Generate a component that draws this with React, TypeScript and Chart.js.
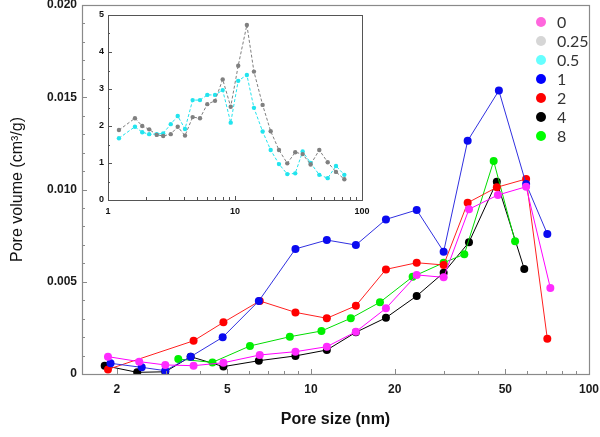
import React, { useEffect, useRef } from 'react';
import { Chart, registerables } from 'chart.js';
Chart.register(...registerables);

// ---------- main chart data ----------
const xTicks = [2, 5, 10, 20, 50, 100];
const xTickLabels = ['2', '5', '10', '20', '50', '100'];
const yTicks = [0, 0.005, 0.01, 0.015, 0.02];
const yTickLabels = ['0', '0.005', '0.010', '0.015', '0.020'];

const size0 = [1.86, 2.41, 2.99, 3.78, 4.84, 6.54, 8.79, 11.4, 14.5, 18.6, 24.0, 30.0, 37.0, 47.0, 59.4, 72.6];
const vol0 = [0.00094, 0.00067, 0.00049, 0.00045, 0.00061, 0.00103, 0.00121, 0.00148, 0.00229, 0.00356, 0.00537, 0.00524, 0.00893, 0.0097, 0.01015, 0.00466];

const size1 = [1.9, 2.46, 2.99, 3.69, 4.81, 6.49, 8.79, 11.4, 14.5, 18.6, 24.0, 30.0, 36.6, 47.4, 59.4, 70.8];
const vol1 = [0.00058, 0.00036, 0.00018, 0.00094, 0.00199, 0.00396, 0.00678, 0.00726, 0.00699, 0.00838, 0.00889, 0.00663, 0.01264, 0.01536, 0.0103, 0.00759];

const size2 = [1.86, 3.78, 4.84, 6.54, 8.79, 11.4, 14.5, 18.6, 24.0, 30.0, 36.6, 46.6, 59.4, 70.8];
const vol2 = [0.00025, 0.0018, 0.0028, 0.00396, 0.00334, 0.00302, 0.0037, 0.00567, 0.00603, 0.00591, 0.00928, 0.01012, 0.01057, 0.00191];

const size4 = [1.81, 2.37, 2.99, 3.69, 4.84, 6.49, 8.79, 11.4, 14.5, 18.6, 24.0, 30.0, 37.0, 46.6, 58.5];
const vol4 = [0.00045, 0.00009, 0.00012, 0.00094, 0.0004, 0.00072, 0.00098, 0.0013, 0.00226, 0.00305, 0.00423, 0.00549, 0.00714, 0.01042, 0.00569];

const size8 = [3.33, 4.42, 6.03, 8.39, 10.9, 13.9, 17.7, 23.2, 30.0, 35.6, 45.4, 54.2];
const vol8 = [0.00081, 0.00063, 0.00152, 0.00202, 0.00233, 0.00302, 0.00389, 0.00527, 0.00603, 0.00649, 0.01154, 0.00719];

const legendLabels = ['0', '0.25', '0.5', '1', '2', '4', '8'];
const legendColors = ['#ff66dd', '#d6d6d6', '#66ffff', '#0000ff', '#ff0000', '#000000', '#00ff00'];

// ---------- inset data ----------
const insetXTicks = [1, 10, 100];
const insetXTickLabels = ['1', '10', '100'];
const insetYTicks = [0, 1, 2, 3, 4, 5];
const insetYTickLabels = ['0', '1', '2', '3', '4', '5'];

const insetSize = [1.22, 1.63, 1.86, 2.11, 2.42, 2.72, 3.12, 3.54, 4.04, 4.64, 5.3, 6.05, 6.96, 8.0, 9.25, 10.6, 12.4, 14.1, 16.5, 19.1, 22.2, 25.8, 29.8, 34.1, 39.4, 46.1, 53.7, 62.4, 72.6];
const insetGrey = [1.89, 2.21, 2.0, 1.91, 1.76, 1.73, 1.78, 1.98, 1.74, 2.24, 2.21, 2.59, 2.68, 3.26, 2.52, 3.63, 4.73, 3.47, 2.57, 1.86, 1.35, 0.99, 1.29, 1.24, 0.96, 1.35, 1.02, 0.76, 0.56];
const insetCyan = [1.67, 1.98, 1.83, 1.78, 1.78, 1.8, 2.05, 2.27, 1.92, 2.7, 2.7, 2.84, 2.84, 2.97, 2.09, 3.22, 3.38, 2.49, 1.85, 1.35, 0.97, 0.7, 0.72, 1.31, 1.0, 0.68, 0.59, 0.92, 0.68];

const SANS = '"Liberation Sans", Arial, sans-serif';

function pts(xs: number[], ys: number[]) {
  return xs.map((x, i) => ({ x, y: ys[i] }));
}

function series(xs: number[], ys: number[], marker: string, line: string, r = 4, dash: number[] = []) {
  return {
    data: pts(xs, ys),
    showLine: true,
    borderColor: line,
    borderWidth: 1,
    borderDash: dash,
    backgroundColor: marker,
    pointBackgroundColor: marker,
    pointBorderColor: marker,
    pointBorderWidth: 0,
    pointRadius: r,
    pointHoverRadius: r,
    tension: 0,
  };
}

const mainFrame = {
  id: 'mainFrame',
  afterDraw(chart: any) {
    const { ctx, chartArea: a, scales } = chart;
    const sx = scales.x, sy = scales.y;
    ctx.save();
    ctx.strokeStyle = '#8a8a8a';
    ctx.lineWidth = 1.2;
    ctx.strokeRect(a.left + 0.5, a.top + 0.5, a.right - a.left, a.bottom - a.top);
    ctx.lineWidth = 1;
    ctx.beginPath();
    for (const d of [1, 10]) {
      for (let m = 1; m <= 9; m++) {
        const v = m * d;
        if (v < 1.5 || v > 100) continue;
        const len = xTicks.includes(v) ? 5 : 3;
        const px = Math.round(sx.getPixelForValue(v)) + 0.5;
        ctx.moveTo(px, a.bottom);
        ctx.lineTo(px, a.bottom - len);
      }
    }
    for (let k = 1; k < 20; k++) {
      const v = k * 0.001;
      const len = k % 5 === 0 ? 5 : 3;
      const py = Math.round(sy.getPixelForValue(v)) + 0.5;
      ctx.moveTo(a.left, py);
      ctx.lineTo(a.left + len, py);
    }
    ctx.stroke();
    ctx.restore();
  },
};

const legendPlugin = {
  id: 'customLegend',
  afterDraw(chart: any) {
    const { ctx } = chart;
    ctx.save();
    ctx.font = '16px Lato, "Open Sans", sans-serif';
    ctx.textBaseline = 'middle';
    ctx.textAlign = 'left';
    legendLabels.forEach((lab, i) => {
      const y = 22 + i * 19;
      ctx.fillStyle = legendColors[i];
      ctx.beginPath();
      ctx.arc(541, y, 5, 0, Math.PI * 2);
      ctx.fill();
      ctx.fillStyle = '#333333';
      ctx.fillText(lab, 557, y + 1);
    });
    ctx.restore();
  },
};

const insetFrame = {
  id: 'insetFrame',
  beforeDatasetsDraw(chart: any) {
    const { ctx, chartArea: a } = chart;
    ctx.save();
    ctx.fillStyle = '#ffffff';
    ctx.fillRect(a.left, a.top, a.right - a.left, a.bottom - a.top);
    ctx.restore();
  },
  afterDraw(chart: any) {
    const { ctx, chartArea: a, scales } = chart;
    const sx = scales.x, sy = scales.y;
    ctx.save();
    ctx.strokeStyle = '#555555';
    ctx.lineWidth = 1;
    ctx.strokeRect(a.left + 0.5, a.top + 0.5, a.right - a.left, a.bottom - a.top);
    ctx.beginPath();
    for (const d of [1, 10]) {
      for (let m = 1; m <= 9; m++) {
        const v = m * d;
        const len = m === 1 ? 4 : 3;
        const px = Math.round(sx.getPixelForValue(v)) + 0.5;
        ctx.moveTo(px, a.bottom);
        ctx.lineTo(px, a.bottom - len);
      }
    }
    for (let k = 1; k < 10; k++) {
      const v = k * 0.5;
      const len = k % 2 === 0 ? 4 : 2;
      const py = Math.round(sy.getPixelForValue(v)) + 0.5;
      ctx.moveTo(a.left, py);
      ctx.lineTo(a.left + len, py);
    }
    ctx.stroke();
    ctx.restore();
  },
};

export default function App() {
  const mainRef = useRef<HTMLCanvasElement | null>(null);
  const insetRef = useRef<HTMLCanvasElement | null>(null);

  useEffect(() => {
    const main = new Chart(mainRef.current as HTMLCanvasElement, {
      type: 'scatter',
      data: {
        datasets: [
          series(size0, vol0, '#ff2bff', '#ff00ff'),
          series(size1, vol1, '#0a0af0', '#3030e0'),
          series(size2, vol2, '#ff0000', '#ff2020'),
          series(size8, vol8, '#00f000', '#00dd00'),
          series(size4, vol4, '#000000', '#000000'),
        ] as any,
      },
      options: {
        animation: false,
        responsive: false,
        maintainAspectRatio: false,
        layout: { padding: { top: 5, right: 11, left: 0, bottom: 0 } },
        plugins: { legend: { display: false }, tooltip: { enabled: false } },
        scales: {
          x: {
            type: 'logarithmic',
            min: 1.5,
            max: 100,
            afterBuildTicks: (s: any) => {
              s.ticks = xTicks.map((v) => ({ value: v }));
            },
            afterFit: (s: any) => {
              s.height = 63;
              s.paddingLeft = 0;
              s.paddingRight = 0;
            },
            ticks: {
              callback: (_v: any, i: number) => xTickLabels[i],
              font: { family: SANS, weight: 'bold', size: 12 },
              color: '#1a1a1a',
              padding: 8,
              maxRotation: 0,
              autoSkip: false,
            },
            grid: { display: false, drawTicks: false },
            border: { display: false },
            title: {
              display: true,
              text: 'Pore size (nm)',
              font: { family: SANS, weight: 'bold', size: 16 },
              color: '#111111',
              padding: { top: 8, bottom: 8 },
            },
          },
          y: {
            min: 0,
            max: 0.02,
            afterBuildTicks: (s: any) => {
              s.ticks = yTicks.map((v) => ({ value: v }));
            },
            afterFit: (s: any) => {
              s.width = 82;
              s.paddingTop = 0;
              s.paddingBottom = 0;
            },
            ticks: {
              callback: (_v: any, i: number) => yTickLabels[i],
              font: { family: SANS, weight: 'bold', size: 12 },
              color: '#1a1a1a',
              padding: 5,
              autoSkip: false,
            },
            grid: { display: false, drawTicks: false },
            border: { display: false },
            title: {
              display: true,
              text: 'Pore volume (cm³/g)',
              font: { family: SANS, size: 16 },
              color: '#111111',
              padding: { top: 8, bottom: 8 },
            },
          },
        },
      } as any,
      plugins: [mainFrame, legendPlugin],
    });

    const inset = new Chart(insetRef.current as HTMLCanvasElement, {
      type: 'scatter',
      data: {
        datasets: [
          series(insetSize, insetGrey, '#808080', '#808080', 2.2, [3, 2]),
          series(insetSize, insetCyan, '#22e4ee', '#22e4ee', 2.2, [3, 2]),
        ] as any,
      },
      options: {
        animation: false,
        responsive: false,
        maintainAspectRatio: false,
        layout: { padding: { top: 12, right: 8, left: 0, bottom: 0 } },
        plugins: { legend: { display: false }, tooltip: { enabled: false } },
        scales: {
          x: {
            type: 'logarithmic',
            min: 1,
            max: 100,
            afterBuildTicks: (s: any) => {
              s.ticks = insetXTicks.map((v) => ({ value: v }));
            },
            afterFit: (s: any) => {
              s.height = 20;
              s.paddingLeft = 0;
              s.paddingRight = 0;
            },
            ticks: {
              callback: (_v: any, i: number) => insetXTickLabels[i],
              font: { family: SANS, weight: 'bold', size: 9 },
              color: '#111111',
              padding: 6,
              maxRotation: 0,
              autoSkip: false,
            },
            grid: { display: false, drawTicks: false },
            border: { display: false },
          },
          y: {
            min: 0,
            max: 5,
            afterBuildTicks: (s: any) => {
              s.ticks = insetYTicks.map((v) => ({ value: v }));
            },
            afterFit: (s: any) => {
              s.width = 13;
              s.paddingTop = 0;
              s.paddingBottom = 0;
            },
            ticks: {
              callback: (_v: any, i: number) => insetYTickLabels[i],
              font: { family: SANS, weight: 'bold', size: 9 },
              color: '#111111',
              padding: 4,
              autoSkip: false,
            },
            grid: { display: false, drawTicks: false },
            border: { display: false },
          },
        },
      } as any,
      plugins: [insetFrame],
    });

    return () => {
      main.destroy();
      inset.destroy();
    };
  }, []);

  return (
    <div style={{ position: 'fixed', left: 0, top: 0, width: 600, height: 437, background: '#ffffff' }}>
      <canvas ref={mainRef} width={600} height={437} style={{ position: 'absolute', left: 0, top: 0, width: 600, height: 437 }} />
      <canvas ref={insetRef} width={275} height={217} style={{ position: 'absolute', left: 95, top: 3, width: 275, height: 217 }} />
    </div>
  );
}
